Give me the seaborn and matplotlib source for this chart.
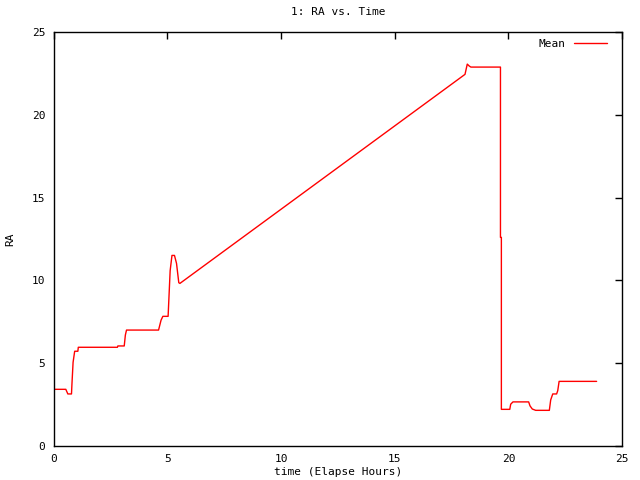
import matplotlib
matplotlib.use("Agg")
import matplotlib.pyplot as plt
import pandas as pd
import seaborn as sns

# elapsed hours vs. mean RA (step corners included)
hours = [0.00, 0.53, 0.62, 0.78, 0.80, 0.85, 0.92, 1.06, 1.08, 2.80, 2.82, 3.10,
         3.15, 3.20, 4.61, 4.72, 4.80, 5.03, 5.06, 5.12, 5.20, 5.31, 5.40, 5.50,
         5.55, 18.09, 18.19, 18.28, 18.35, 19.65, 19.65, 19.69, 19.69, 20.06,
         20.10, 20.20, 20.89, 20.95, 21.05, 21.20, 21.80, 21.86, 21.95, 22.12,
         22.17, 22.23, 23.88]
ra_mean = [3.42, 3.42, 3.14, 3.14, 3.74, 5.05, 5.72, 5.72, 5.96, 5.96, 6.04, 6.04,
           6.70, 7.00, 7.00, 7.60, 7.83, 7.83, 8.75, 10.59, 11.51, 11.51, 11.03, 9.86,
           9.82, 22.45, 23.07, 22.95, 22.89, 22.89, 12.60, 12.60, 2.21, 2.21,
           2.52, 2.66, 2.66, 2.42, 2.23, 2.15, 2.15, 2.78, 3.14, 3.14,
           3.34, 3.90, 3.90]

df = pd.DataFrame({"hours": hours, "ra": ra_mean})

sns.set_theme(style="white")
plt.rcParams["font.family"] = ["DejaVu Sans Mono"]
plt.rcParams.update({
    "font.size": 8,
    "text.color": "black",
    "axes.labelcolor": "black",
    "axes.titlecolor": "black",
    "xtick.direction": "in",
    "ytick.direction": "in",
    "xtick.top": True,
    "ytick.right": True,
    "xtick.major.size": 5,
    "ytick.major.size": 5,
    "xtick.major.width": 1.0,
    "ytick.major.width": 1.0,
    "axes.edgecolor": "black",
    "axes.linewidth": 1.0,
})

fig = plt.figure(figsize=(6.4, 4.8), dpi=100)
ax = fig.add_axes([0.084, 0.071, 0.888, 0.862])

sns.lineplot(data=df, x="hours", y="ra", sort=False, estimator=None,
             color="#ff0000", linewidth=1.0, label="Mean", ax=ax)

ax.set_xlim(0, 25)
ax.set_ylim(0, 25)
ax.set_xticks(range(0, 26, 5))
ax.set_yticks(range(0, 26, 5))
ax.tick_params(colors="black", labelsize=8, pad=6)
ax.set_xlabel("time (Elapse Hours)", fontsize=8)
ax.set_ylabel("RA", fontsize=8)
ax.xaxis.set_label_coords(0.5, -0.063, transform=ax.transAxes)
ax.yaxis.set_label_coords(-0.077, 0.5, transform=ax.transAxes)
ax.xaxis.label.set_va("center")
ax.yaxis.label.set_va("center")
ax.set_title("1: RA vs. Time", fontsize=8, pad=12)

ax.legend(loc="upper right", bbox_to_anchor=(0.988, 1.002), frameon=False,
          markerfirst=False, fontsize=8, handlelength=3.0, borderaxespad=0.3)

fig.savefig("out.png", dpi=100)
